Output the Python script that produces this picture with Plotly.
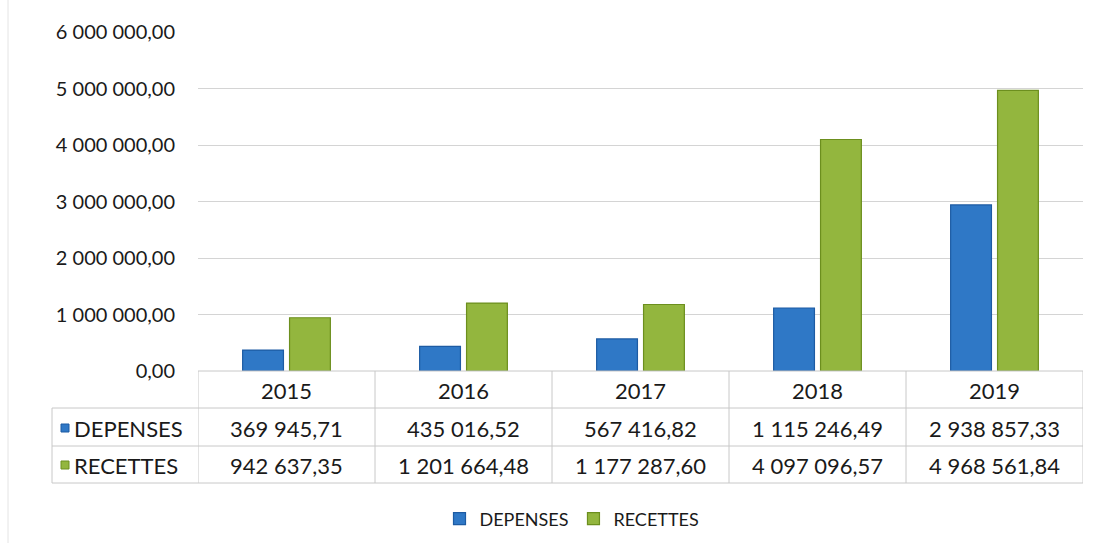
import plotly.graph_objects as go

years = ["2015", "2016", "2017", "2018", "2019"]
depenses = [369945.71, 435016.52, 567416.82, 1115246.49, 2938857.33]
recettes = [942637.35, 1201664.48, 1177287.60, 4097096.57, 4968561.84]
series_names = ["DEPENSES", "RECETTES"]
tick_vals = [0, 1000000, 2000000, 3000000, 4000000, 5000000, 6000000]
tick_text = ["0,00", "1 000 000,00", "2 000 000,00", "3 000 000,00",
             "4 000 000,00", "5 000 000,00", "6 000 000,00"]

BLUE = "#2f78c6"
BLUE_LINE = "#1d5ba3"
GREEN = "#93b63e"
GREEN_LINE = "#6c8f1e"
FONT = "Lato"
TXT = "#1a1a1a"


def fr(v):
    s = f"{v:,.2f}"
    return s.replace(",", " ").replace(".", ",")


fig = go.Figure()
fig.add_bar(x=years, y=depenses, name=series_names[0], marker_color=BLUE,
            marker_line_color=BLUE_LINE, marker_line_width=1.2)
fig.add_bar(x=years, y=recettes, name=series_names[1], marker_color=GREEN,
            marker_line_color=GREEN_LINE, marker_line_width=1.2)

# plot area geometry (pixels)
L, R, T, B = 198, 1083, 32, 371
H = B - T


def py(Y):
    return (B - Y) / H


def px(X):
    return (X - L) / (R - L)


shapes = []
annotations = []
GRID = "#c8c8c8"
rows = [371, 408, 446, 483]
TS = 22
# horizontal table lines
shapes.append(dict(type="line", xref="paper", yref="paper", x0=0, x1=1,
                   y0=py(rows[0]), y1=py(rows[0]), line=dict(color=GRID, width=1)))
for Y in rows[1:]:
    shapes.append(dict(type="line", xref="paper", yref="paper", x0=px(52), x1=1,
                       y0=py(Y), y1=py(Y), line=dict(color=GRID, width=1)))
# vertical table lines
for i in range(len(years) + 1):
    shapes.append(dict(type="line", xref="x", yref="paper", x0=i - 0.5, x1=i - 0.5,
                       y0=py(rows[0]), y1=py(rows[3]), line=dict(color=GRID, width=1)))
shapes.append(dict(type="line", xref="paper", yref="paper", x0=px(52), x1=px(52),
                   y0=py(rows[1]), y1=py(rows[3]), line=dict(color=GRID, width=1)))
# faint left border of chart area
shapes.append(dict(type="line", xref="paper", yref="paper", x0=px(8), x1=px(8),
                   y0=py(0), y1=py(543), line=dict(color="#e4e4e4", width=1)))

# table texts
for i, yr in enumerate(years):
    for Y, txt in [(390, yr), (428, fr(depenses[i])), (465, fr(recettes[i]))]:
        annotations.append(dict(x=i, xref="x", y=py(Y), yref="paper", text=txt,
                                xanchor="center", yanchor="middle", showarrow=False,
                                font=dict(size=TS, color=TXT, family=FONT)))

for name, col, lc, Y in [(series_names[0], BLUE, BLUE_LINE, 428),
                         (series_names[1], GREEN, GREEN_LINE, 465)]:
    shapes.append(dict(type="rect", xref="paper", yref="paper",
                       x0=px(61), x1=px(69), y0=py(Y + 4), y1=py(Y - 4),
                       fillcolor=col, line=dict(color=lc, width=1)))
    annotations.append(dict(x=px(72), xref="paper", y=py(Y), yref="paper", text=name,
                            xanchor="left", yanchor="middle", showarrow=False,
                            font=dict(size=TS, color=TXT, family=FONT)))

fig.update_layout(
    width=1112, height=543,
    margin=dict(l=L, r=1112 - R, t=T, b=543 - B, pad=0, autoexpand=False),
    paper_bgcolor="white", plot_bgcolor="white",
    font=dict(family=FONT, color=TXT),
    barmode="group", bargap=0.47, bargroupgap=0.13,
    xaxis=dict(showticklabels=False, showgrid=False, zeroline=False, showline=False,
               range=[-0.5, 4.5], fixedrange=True),
    yaxis=dict(range=[0, 6000000], tickvals=tick_vals, ticktext=tick_text,
               showgrid=True, gridcolor="#d4d4d4", gridwidth=1, zeroline=False,
               showline=False, ticks="", ticklabelstandoff=22,
               tickfont=dict(size=20, color=TXT, family=FONT)),
    legend=dict(orientation="h", x=px(572), xanchor="center", y=py(519), yanchor="middle",
                font=dict(size=18, color=TXT, family=FONT),
                traceorder="normal"),
    shapes=shapes, annotations=annotations,
)

fig.write_html("out.html")
